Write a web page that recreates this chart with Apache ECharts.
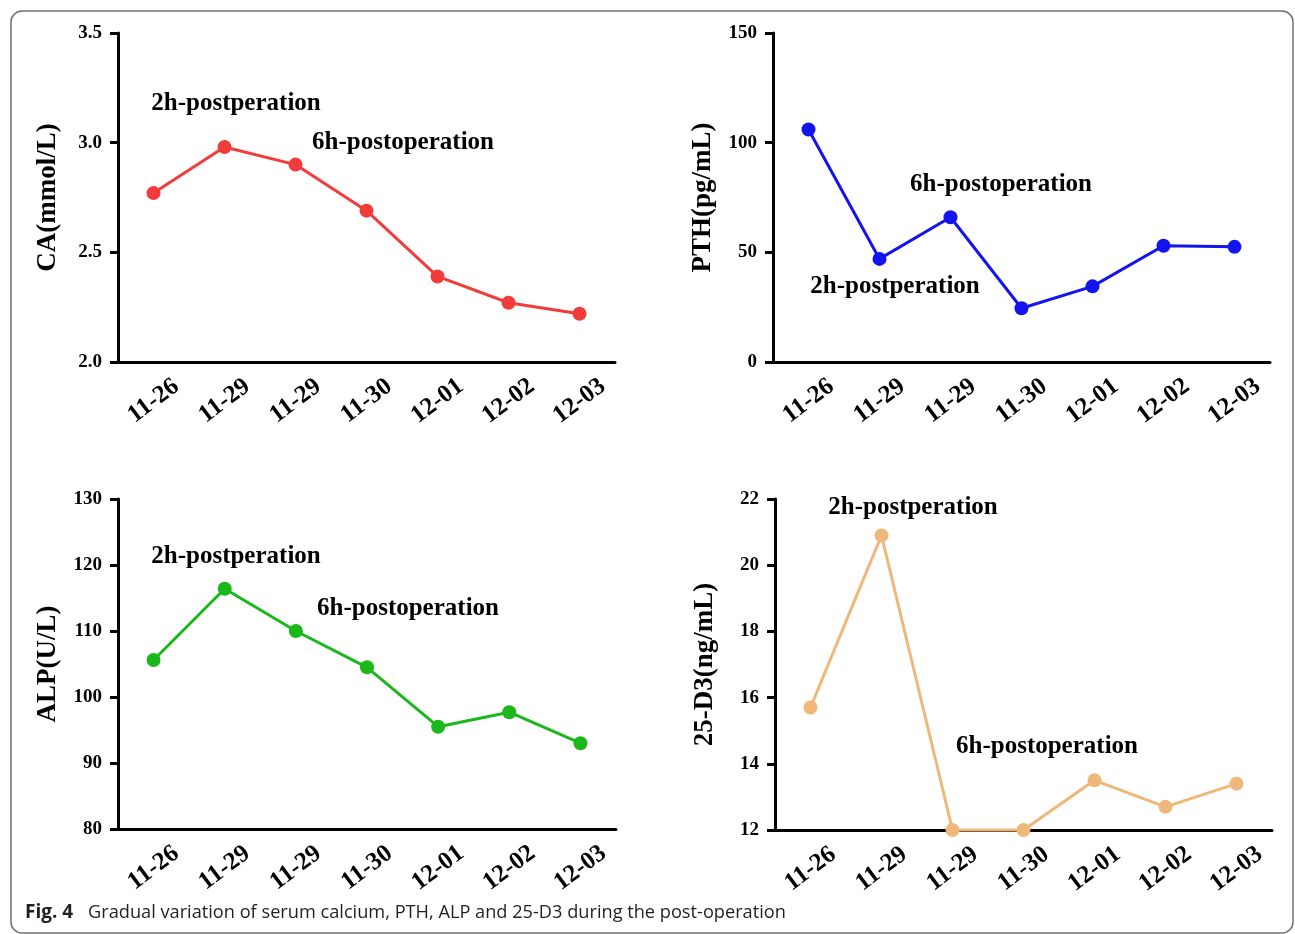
<!DOCTYPE html>
<html>
<head>
<meta charset="utf-8">
<script src="https://cdn.jsdelivr.net/npm/echarts@6/dist/echarts.min.js"></script>
<style>
html,body{margin:0;padding:0;background:#fff;}
#chart{width:1295px;height:934px;}
</style>
</head>
<body>
<div id="chart"></div>
<script>
// ---- data ----
const categories = ['11-26', '11-29', '11-29', '11-30', '12-01', '12-02', '12-03'];
const caValues  = [2.77, 2.98, 2.90, 2.69, 2.39, 2.27, 2.22];
const pthValues = [106, 47, 66, 24.5, 34.5, 53, 52.5];
const alpValues = [105.6, 116.4, 110, 104.5, 95.5, 97.7, 93];
const d3Values  = [15.7, 20.9, 12, 12, 13.5, 12.7, 13.4];
// y-axis ticks: [min, max, interval]
const caTicks  = [2.0, 3.5, 0.5];
const pthTicks = [0, 150, 50];
const alpTicks = [80, 130, 10];
const d3Ticks  = [12, 22, 2];
const axisNames = ['CA(mmol/L)', 'PTH(pg/mL)', 'ALP(U/L)', '25-D3(ng/mL)'];
const label2h = '2h-postperation';
const label6h = '6h-postoperation';
const captionBold = 'Fig. 4';
const captionText = 'Gradual variation of serum calcium, PTH, ALP and 25-D3 during the post-operation';

const SERIF = '"Liberation Serif", "Times New Roman", serif';
const SANS = '"Open Sans", "Noto Sans", sans-serif';
const colors = ['#f23c3c', '#1414ee', '#1ab81a', '#f0b77a'];

const grids = [
  {left: 118, top: 33, width: 497, height: 329},
  {left: 773, top: 33, width: 497, height: 329},
  {left: 118, top: 499, width: 498, height: 330},
  {left: 775, top: 499, width: 497, height: 331}
];
const ticksArr = [caTicks, pthTicks, alpTicks, d3Ticks];
const valuesArr = [caValues, pthValues, alpValues, d3Values];
const decimals = [1, 0, 0, 0];

const xAxes = grids.map((g, i) => ({
  type: 'category', gridIndex: i, data: categories, boundaryGap: true,
  axisLine: {lineStyle: {color: '#000', width: 3}},
  axisTick: {alignWithLabel: true, length: 8, lineStyle: {color: '#000', width: 3}},
  axisLabel: {rotate: 37, margin: 39, align: 'center', verticalAlign: 'middle',
    color: '#000', fontFamily: SERIF, fontWeight: 'bold', fontSize: 25, interval: 0}
}));
const yAxes = grids.map((g, i) => ({
  type: 'value', gridIndex: i,
  min: ticksArr[i][0], max: ticksArr[i][1], interval: ticksArr[i][2],
  name: axisNames[i], nameLocation: 'middle', nameRotate: 90, nameGap: 56,
  nameTextStyle: {color: '#000', fontFamily: SERIF, fontWeight: 'bold', fontSize: 27},
  splitLine: {show: false},
  axisLine: {show: true, lineStyle: {color: '#000', width: 3}},
  axisTick: {show: true, length: 8, lineStyle: {color: '#000', width: 3}},
  axisLabel: {margin: 16, color: '#000', fontFamily: SERIF, fontWeight: 'bold', fontSize: 19,
    formatter: v => v.toFixed(decimals[i])}
}));
const series = valuesArr.map((vals, i) => ({
  type: 'line', xAxisIndex: i, yAxisIndex: i, data: vals,
  symbol: 'circle', symbolSize: 14, clip: false, z: 5,
  lineStyle: {color: colors[i], width: 3},
  itemStyle: {color: colors[i]}
}));

const annStyle = {fontFamily: SERIF, fontWeight: 'bold', fontSize: 25, fill: '#000', align: 'center', verticalAlign: 'middle'};
const ann = (txt, x, y) => ({type: 'text', x: x, y: y, style: Object.assign({text: txt}, annStyle), z: 10});

const option = {
  animation: false,
  backgroundColor: '#fff',
  grid: grids,
  xAxis: xAxes,
  yAxis: yAxes,
  series: series,
  graphic: [
    {type: 'rect', shape: {x: 11, y: 11, width: 1282, height: 922, r: 11},
     style: {fill: 'none', stroke: '#707070', lineWidth: 1.5}, z: 0},
    ann(label2h, 236, 104), ann(label6h, 403, 143),
    ann(label6h, 1001, 185), ann(label2h, 895, 287),
    ann(label2h, 236, 557), ann(label6h, 408, 609),
    ann(label2h, 913, 508), ann(label6h, 1047, 747),
    {type: 'text', x: 25, y: 913, style: {text: captionBold, fontFamily: SANS, fontWeight: 'bold', fontSize: 19, fill: '#231f20', verticalAlign: 'middle'}},
    {type: 'text', x: 88, y: 913, style: {text: captionText, fontFamily: SANS, fontSize: 18.2, fill: '#231f20', verticalAlign: 'middle'}}
  ]
};
const chart = echarts.init(document.getElementById('chart'), null, {renderer: 'canvas'});
chart.setOption(option);
</script>
</body>
</html>
